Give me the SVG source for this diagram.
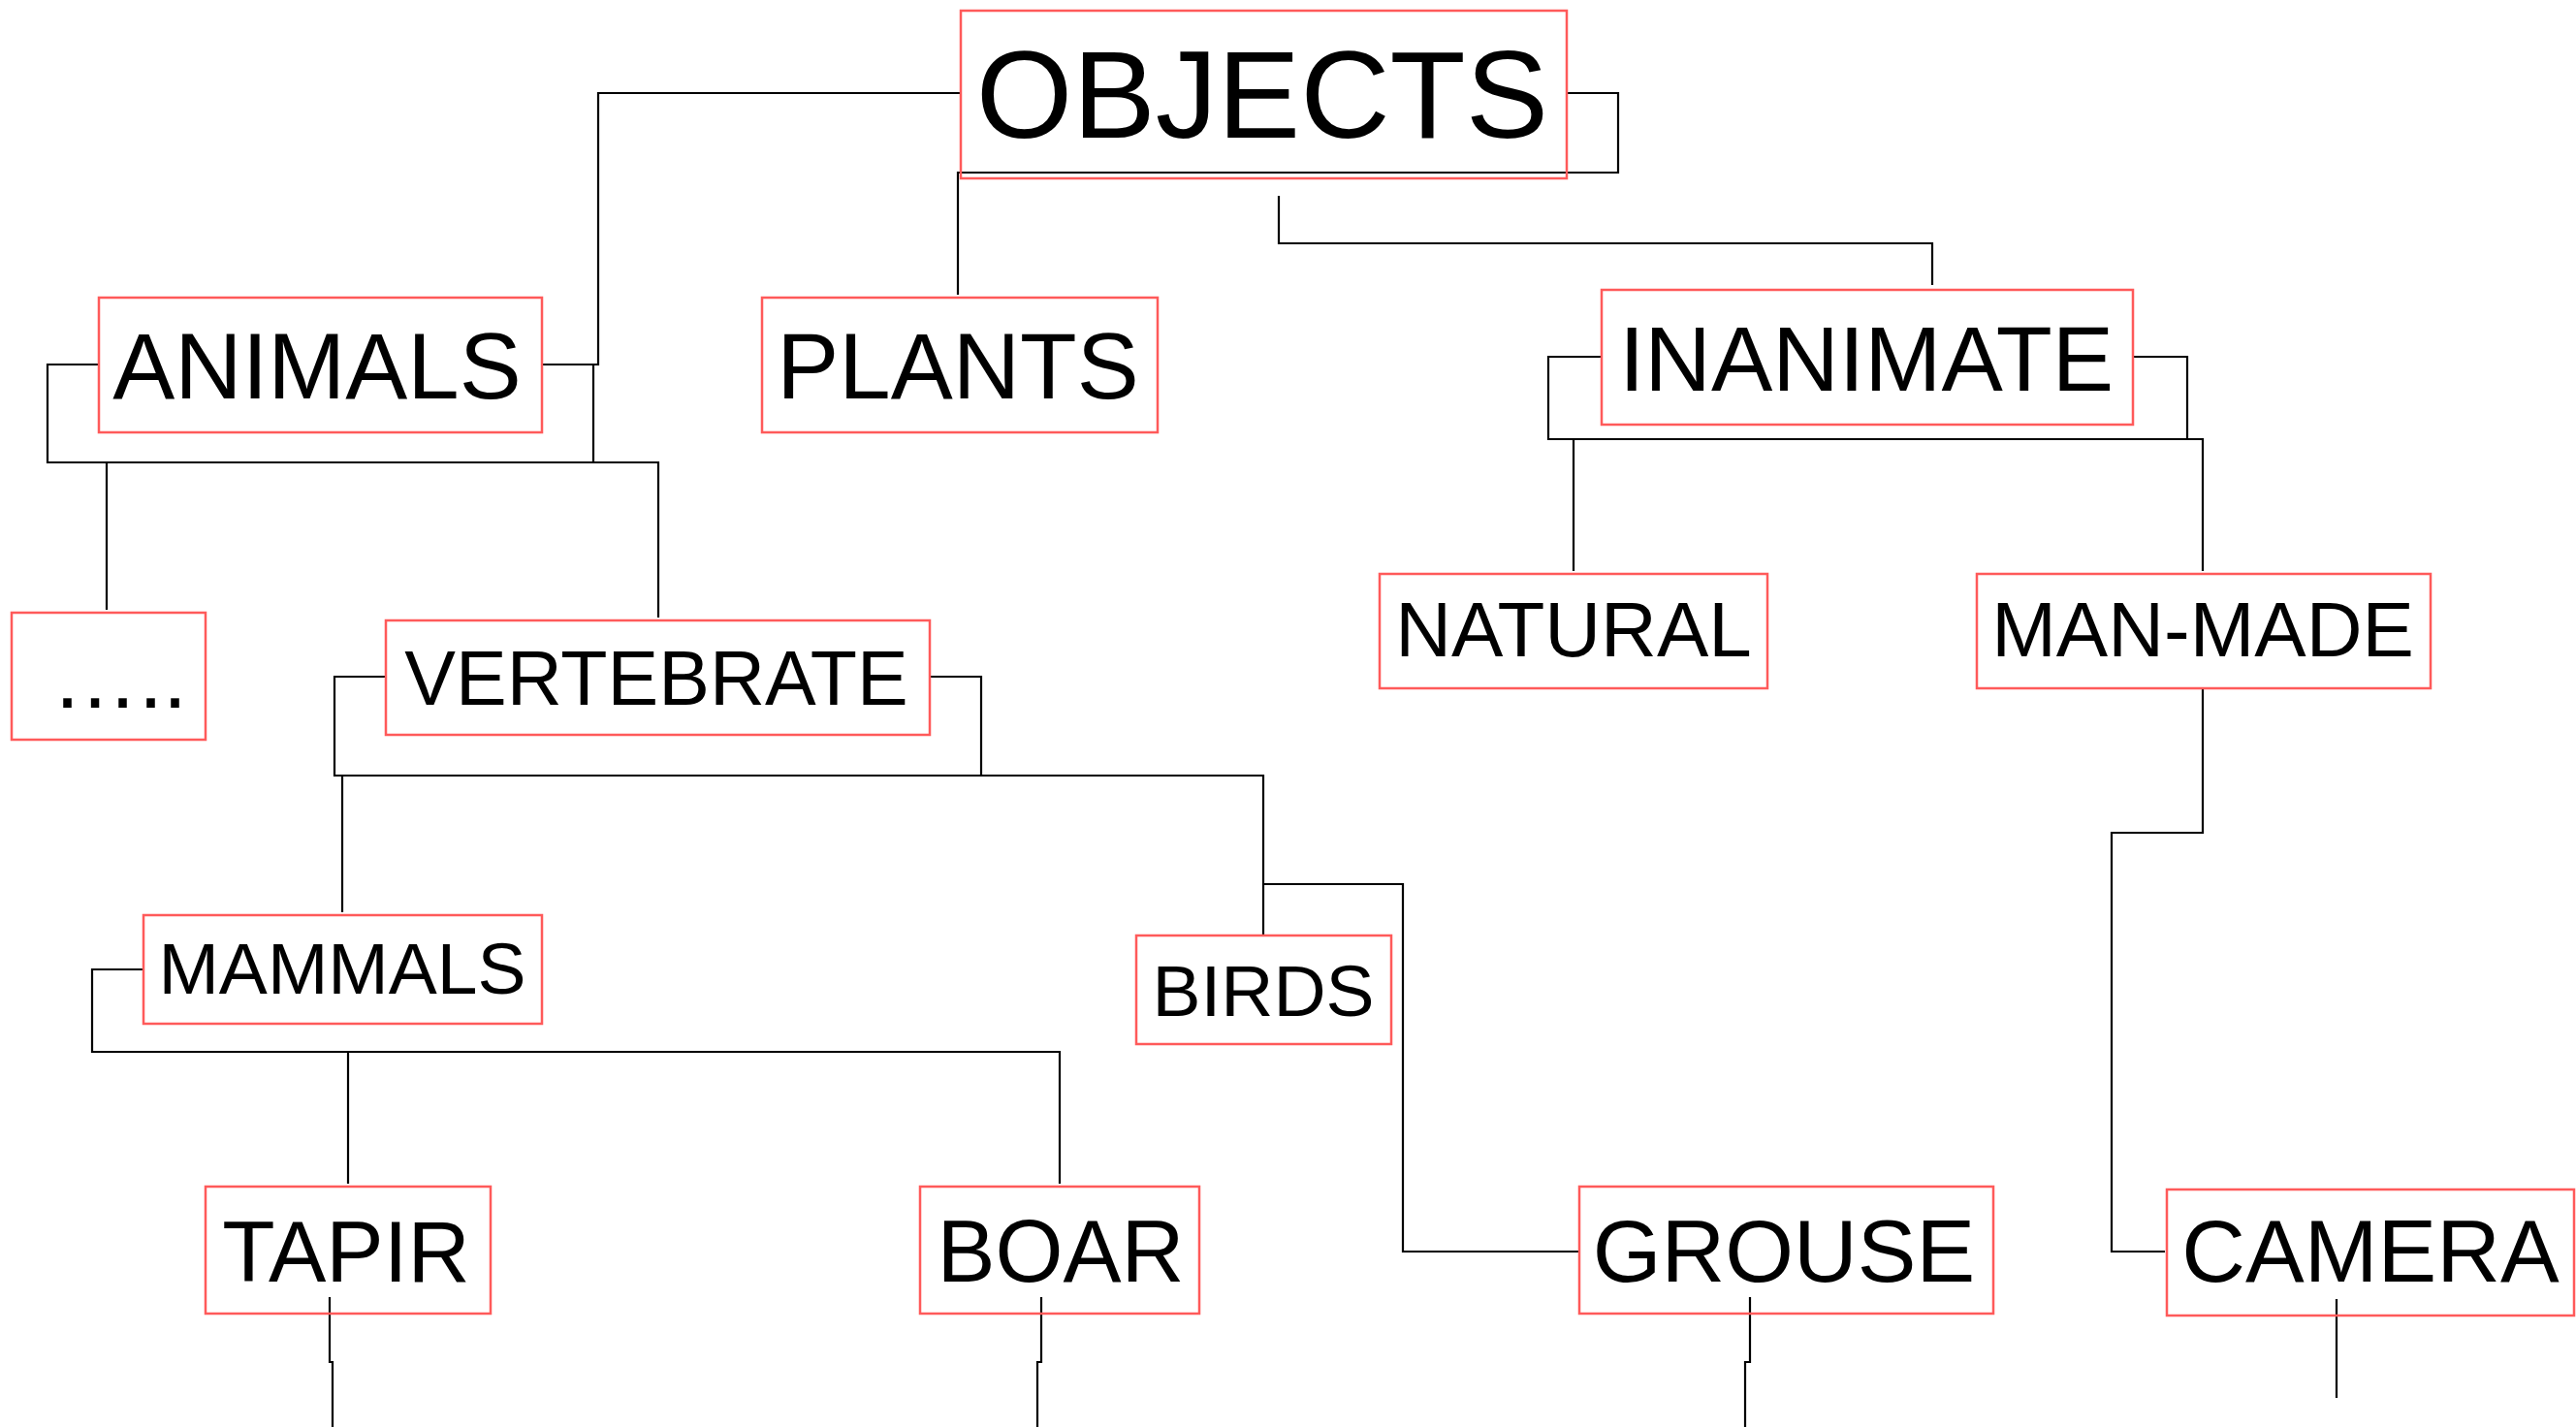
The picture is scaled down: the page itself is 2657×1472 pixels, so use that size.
<svg xmlns="http://www.w3.org/2000/svg" width="2657" height="1472" viewBox="0 0 2657 1472">
<style>
.box{fill:none;stroke:#ff5a5a;stroke-width:2.5}
.lbl{font-family:"Liberation Sans",Arial,sans-serif;fill:#000;text-anchor:middle}
.c{fill:none;stroke:#000;stroke-width:2.2;stroke-linejoin:miter}
</style>
<rect width="2657" height="1472" fill="#fff"/>
<g id="connectors">
<path class="c" d="M991,96 H617 V376 H559"/>
<path class="c" d="M1616,96 H1669 V178 H988 V304"/>
<path class="c" d="M1319,202 V251 H1993 V294"/>
<path class="c" d="M102,376 H49 V477 H612 V376 H559"/>
<path class="c" d="M612,477 H679 V637"/>
<path class="c" d="M110,477 V629"/>
<path class="c" d="M1652,368 H1597 V453 H2256 V368 H2200"/>
<path class="c" d="M2256,453 H2272 V589"/>
<path class="c" d="M1623,453 V589"/>
<path class="c" d="M2272,710 V859 H2178 V1291 H2233"/>
<path class="c" d="M2410,1340 V1442"/>
<path class="c" d="M398,698 H345 V800 H1012 V698 H959"/>
<path class="c" d="M1012,800 H1303 V964"/>
<path class="c" d="M1303,912 H1447 V1291 H1629"/>
<path class="c" d="M353,800 V941"/>
<path class="c" d="M148,1000 H95 V1085 H1093 V1221"/>
<path class="c" d="M359,1085 V1221"/>
<path class="c" d="M340,1338 V1405 H343 V1472"/>
<path class="c" d="M1074,1338 V1405 H1070 V1472"/>
<path class="c" d="M1805,1338 V1405 H1800 V1472"/>
</g>
<g id="objects"><rect class="box" x="991" y="11" width="625" height="173"/><text class="lbl" x="1302" y="142" font-size="128">OBJECTS</text></g>
<g id="animals"><rect class="box" x="102" y="307" width="457" height="139"/><text class="lbl" x="327" y="411" font-size="96">ANIMALS</text></g>
<g id="plants"><rect class="box" x="786" y="307" width="408" height="139"/><text class="lbl" x="988" y="411" font-size="96">PLANTS</text></g>
<g id="inanimate"><rect class="box" x="1652" y="299" width="548" height="139"/><text class="lbl" x="1925" y="403" font-size="95">INANIMATE</text></g>
<g id="natural"><rect class="box" x="1423" y="592" width="400" height="118"/><text class="lbl" x="1623" y="677" font-size="80">NATURAL</text></g>
<g id="man-made"><rect class="box" x="2039" y="592" width="468" height="118"/><text class="lbl" x="2272" y="677" font-size="80">MAN-MADE</text></g>
<g id="other"><rect class="box" x="12" y="632" width="200" height="131"/><text x="53" y="730" font-size="90" font-family="Liberation Sans, Arial, sans-serif">…..</text></g>
<g id="vertebrate"><rect class="box" x="398" y="640" width="561" height="118"/><text class="lbl" x="677" y="727" font-size="79">VERTEBRATE</text></g>
<g id="mammals"><rect class="box" x="148" y="944" width="411" height="112"/><text class="lbl" x="353" y="1025" font-size="75">MAMMALS</text></g>
<g id="birds"><rect class="box" x="1172" y="965" width="263" height="112"/><text class="lbl" x="1303" y="1048" font-size="75">BIRDS</text></g>
<g id="tapir"><rect class="box" x="212" y="1224" width="294" height="131"/><text class="lbl" x="357" y="1322" font-size="89">TAPIR</text></g>
<g id="boar"><rect class="box" x="949" y="1224" width="288" height="131"/><text class="lbl" x="1094" y="1322" font-size="90">BOAR</text></g>
<g id="grouse"><rect class="box" x="1629" y="1224" width="427" height="131"/><text class="lbl" x="1840" y="1322" font-size="91">GROUSE</text></g>
<g id="camera"><rect class="box" x="2235" y="1227" width="420" height="130"/><text class="lbl" x="2445" y="1322" font-size="91">CAMERA</text></g>
</svg>
